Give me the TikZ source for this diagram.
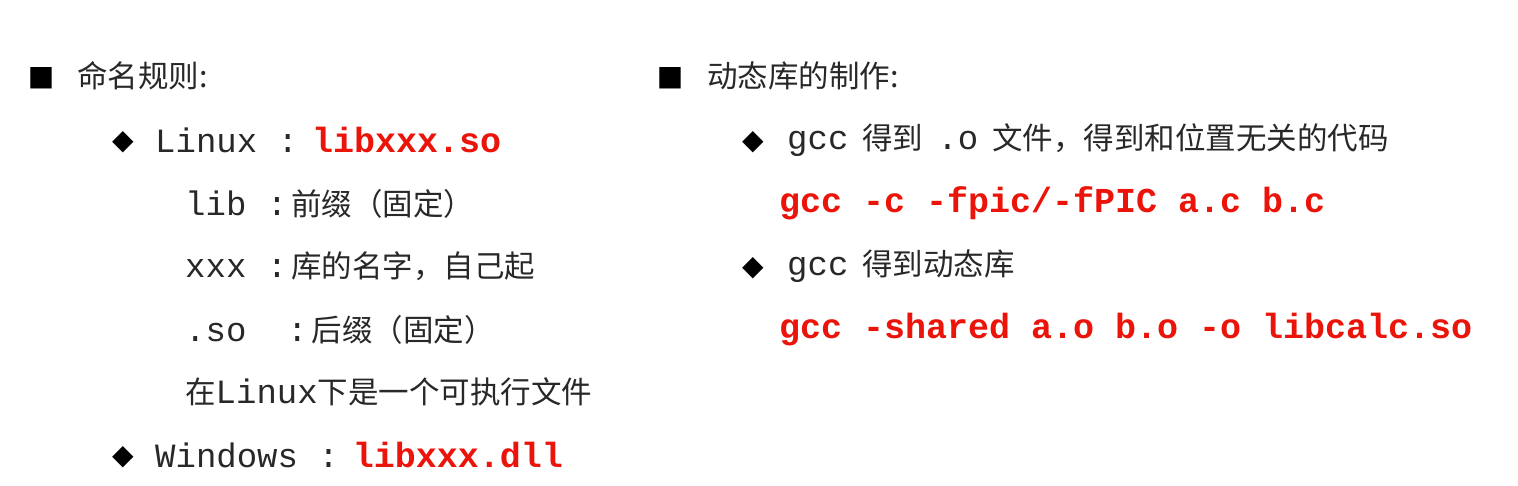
\documentclass[tikz,border=0pt]{standalone}
\usepackage{fontspec}
\setmainfont{Noto Sans CJK SC}
\setmonofont{Liberation Mono}
\newfontfamily\sym{DejaVu Sans}
\definecolor{txt}{RGB}{40,40,40}
\definecolor{rd}{RGB}{235,20,10}
\begin{document}
\begin{tikzpicture}[x=1pt,y=-1pt,
  t/.style={anchor=west,inner sep=0pt,text=txt,font=\fontsize{30.5}{34}\selectfont},
  bul/.style={anchor=center,inner sep=0pt,text=black,font=\sym\fontsize{28}{30}\selectfont}]
\useasboundingbox[fill=white] (0,0) rectangle (1518,486);
\newcommand\mt[1]{{\ttfamily\fontsize{34}{34}\selectfont #1}}
\newcommand\rt[1]{{\ttfamily\bfseries\color{rd}\fontsize{35}{34}\selectfont #1}}
\newcommand\gapsp{\hspace{14pt}}
% left
\node[bul] (b1) at (41,78) {■};
\node[t] (l1) at (77,76) {命名规则:};
\node[bul] (b2) at (123,142) {◆};
\node[t] (l2) at (155,140) {\mt{Linux :}\gapsp\rt{libxxx.so}};
\node[t] (l3) at (185,204) {\mt{lib :}\hspace{4pt}前缀（固定）};
\node[t] (l4) at (185,266) {\mt{xxx :}\hspace{4pt}库的名字，自己起};
\node[t] (l5) at (185,330) {\mt{.so\ \ :}\hspace{4pt}后缀（固定）};
\node[t] (l6) at (185,392) {在\mt{Linux}下是一个可执行文件};
\node[bul] (b3) at (123,457) {◆};
\node[t] (l7) at (155,455) {\mt{Windows :}\gapsp\rt{libxxx.dll}};
% right
\node[bul] (b4) at (670,78) {■};
\node[t] (r1) at (707,76) {动态库的制作:};
\node[bul] (b5) at (753,142) {◆};
\node[t] (r2) at (787,140) {\mt{gcc}\gapsp 得到\gapsp\mt{.o}\gapsp 文件，得到和位置无关的代码};
\node[t] (r3) at (779,203) {\rt{gcc -c -fpic/-fPIC a.c b.c}};
\node[bul] (b6) at (753,268) {◆};
\node[t] (r4) at (787,266) {\mt{gcc}\gapsp 得到动态库};
\node[t] (r5) at (779,330) {\rt{gcc -shared a.o b.o -o libcalc.so}};
\end{tikzpicture}
\end{document}
